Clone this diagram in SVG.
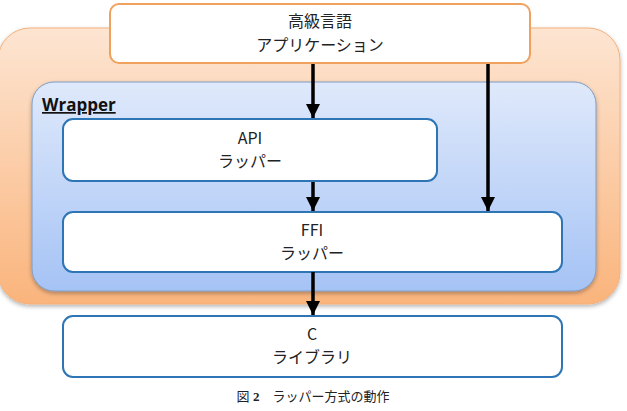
<svg xmlns="http://www.w3.org/2000/svg" width="627" height="411" viewBox="0 0 627 411">
<defs>
<linearGradient id="gOrange" x1="0" y1="0" x2="0" y2="1">
<stop offset="0" stop-color="#fde5d2"/>
<stop offset="1" stop-color="#fab47c"/>
</linearGradient>
<linearGradient id="gBlue" x1="0" y1="0" x2="0" y2="1">
<stop offset="0" stop-color="#dfe9fb"/>
<stop offset="1" stop-color="#a5c3f5"/>
</linearGradient>
<filter id="sh" x="-5%" y="-10%" width="110%" height="125%">
<feDropShadow dx="0" dy="2" stdDeviation="2" flood-color="#000" flood-opacity="0.3"/>
</filter>
<marker id="ah" viewBox="0 0 10 10" refX="10" refY="5" markerWidth="4" markerHeight="4" markerUnits="strokeWidth" orient="auto">
<path d="M0,0 L10,5 L0,10 Z" fill="#000"/>
</marker>
</defs>
<style>
.t{font-family:"Noto Sans CJK JP","Noto Sans",sans-serif;font-size:16px;fill:#222;text-anchor:middle}
.wb{fill:#fff;stroke:#2e75b6;stroke-width:2}
.c{stroke:#000;stroke-width:3.5;fill:none;marker-end:url(#ah)}
</style>
<g id="outer">
<rect x="-2" y="28" width="622" height="276" rx="32" fill="url(#gOrange)" stroke="#f4b07a" stroke-width="1" filter="url(#sh)"/>
</g>
<g id="wrapper">
<rect x="32" y="82" width="564" height="209" rx="22" fill="url(#gBlue)" stroke="#7f9cc4" stroke-width="1" filter="url(#sh)"/>
<text x="42" y="111" font-family="'Open Sans','Noto Sans',sans-serif" font-size="17" font-weight="bold" fill="#111" text-decoration="underline">Wrapper</text>
</g>
<g id="app">
<rect x="110" y="4" width="420" height="59" rx="9" fill="#fff" stroke="#f0a15e" stroke-width="2"/>
<text class="t" x="320" y="27">高級言語</text>
<text class="t" x="320" y="51">アプリケーション</text>
</g>
<g id="api">
<rect class="wb" x="63" y="119" width="374" height="62" rx="10"/>
<text class="t" x="250" y="144">API</text>
<text class="t" x="250" y="167">ラッパー</text>
</g>
<g id="ffi">
<rect class="wb" x="63" y="212" width="499" height="60" rx="10"/>
<text class="t" x="312" y="236">FFI</text>
<text class="t" x="312" y="259">ラッパー</text>
</g>
<g id="clib">
<rect class="wb" x="63" y="316" width="499" height="61" rx="10"/>
<text class="t" x="312" y="340">C</text>
<text class="t" x="312" y="363">ライブラリ</text>
</g>
<g id="connectors">
<line class="c" x1="313" y1="64" x2="313" y2="118"/>
<line class="c" x1="313" y1="182" x2="313" y2="211"/>
<line class="c" x1="313" y1="272" x2="313" y2="315"/>
<line class="c" x1="488" y1="64" x2="488" y2="211"/>
</g>
<g id="caption">
<text x="313" y="401" font-family="'Liberation Serif','Noto Sans CJK JP',serif" font-size="13" fill="#222" text-anchor="middle">図 <tspan font-weight="bold">2</tspan>　ラッパー方式の動作</text>
</g>
</svg>
